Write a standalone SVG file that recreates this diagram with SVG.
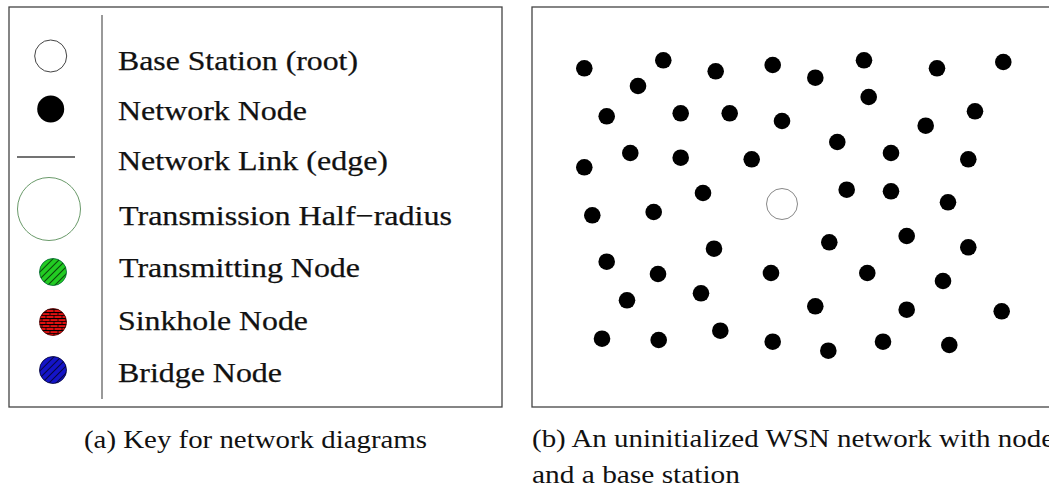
<svg xmlns="http://www.w3.org/2000/svg" width="1049" height="490" viewBox="0 0 1049 490">
<style>
.frame{fill:#fff;stroke:#444;stroke-width:1.3}
.lbl{font-family:"Liberation Serif","Times New Roman",serif;font-size:27.5px;fill:#111;stroke:#111;stroke-width:0.25}
.cap{font-family:"Liberation Serif","Times New Roman",serif;font-size:25px;fill:#111}
.nd{fill:#000}
</style>
<defs>
<pattern id="diag" patternUnits="userSpaceOnUse" width="5" height="5" patternTransform="rotate(45)">
<line x1="0" y1="0" x2="0" y2="5" stroke="#000" stroke-width="1.3"/>
</pattern>
<pattern id="brick" patternUnits="userSpaceOnUse" width="8" height="6">
<line x1="0" y1="0.5" x2="8" y2="0.5" stroke="#000" stroke-width="1.2"/>
<line x1="2" y1="0" x2="2" y2="3" stroke="#000" stroke-width="0.8"/>
<line x1="6" y1="3" x2="6" y2="6" stroke="#000" stroke-width="0.8"/>
<line x1="0" y1="3.5" x2="8" y2="3.5" stroke="#000" stroke-width="0.8"/>
</pattern>
</defs>
<rect width="1049" height="490" fill="#fff"/>

<g id="key-panel">
<rect class="frame" x="9" y="7" width="493" height="400"/>
<line x1="102" y1="15" x2="102" y2="399" stroke="#777" stroke-width="1.5"/>
</g>
<g id="key-base-station">
<circle cx="50.7" cy="56" r="16" fill="#fff" stroke="#444" stroke-width="1"/>
<text class="lbl" x="118" y="70" textLength="240" lengthAdjust="spacingAndGlyphs">Base Station (root)</text>
</g>
<g id="key-network-node">
<circle cx="50.7" cy="109" r="13.5" fill="#000"/>
<text class="lbl" x="118" y="120" textLength="189" lengthAdjust="spacingAndGlyphs">Network Node</text>
</g>
<g id="key-network-link">
<line x1="17" y1="157" x2="75" y2="157" stroke="#444" stroke-width="1.4"/>
<text class="lbl" x="118" y="170" textLength="270" lengthAdjust="spacingAndGlyphs">Network Link (edge)</text>
</g>
<g id="key-transmission-radius">
<circle cx="49" cy="209" r="31.5" fill="none" stroke="#6a9a6a" stroke-width="1"/>
<text class="lbl" x="119" y="225" textLength="333" lengthAdjust="spacingAndGlyphs">Transmission Half−radius</text>
</g>
<g id="key-transmitting-node">
<circle cx="53" cy="272" r="13.5" fill="#22cc22"/>
<circle cx="53" cy="272" r="13.5" fill="url(#diag)" stroke="#063" stroke-width="0.8"/>
<text class="lbl" x="119" y="277" textLength="241" lengthAdjust="spacingAndGlyphs">Transmitting Node</text>
</g>
<g id="key-sinkhole-node">
<circle cx="53" cy="322" r="13.5" fill="#e01010"/>
<circle cx="53" cy="322" r="13.5" fill="url(#brick)" stroke="#400" stroke-width="0.8"/>
<text class="lbl" x="118" y="330" textLength="190" lengthAdjust="spacingAndGlyphs">Sinkhole Node</text>
</g>
<g id="key-bridge-node">
<circle cx="53" cy="370" r="13.5" fill="#1414c8"/>
<circle cx="53" cy="370" r="13.5" fill="url(#diag)" stroke="#003" stroke-width="0.8"/>
<text class="lbl" x="118" y="382" textLength="164" lengthAdjust="spacingAndGlyphs">Bridge Node</text>
</g>

<g id="network-panel">
<rect class="frame" x="532" y="7" width="540" height="400"/>
</g>
<g id="connectors"></g>
<g id="base-station">
<circle cx="782" cy="204" r="15.5" fill="#fff" stroke="#888" stroke-width="1"/>
</g>
<g id="network-nodes">
<circle class="nd" id="n1" cx="584.3" cy="68.3" r="8.3"/>
<circle class="nd" id="n2" cx="663.3" cy="60.3" r="8.3"/>
<circle class="nd" id="n3" cx="638" cy="86" r="8.3"/>
<circle class="nd" id="n4" cx="715.7" cy="71.3" r="8.3"/>
<circle class="nd" id="n5" cx="772.7" cy="65" r="8.3"/>
<circle class="nd" id="n6" cx="815.3" cy="77.7" r="8.3"/>
<circle class="nd" id="n7" cx="864" cy="60.3" r="8.3"/>
<circle class="nd" id="n8" cx="868.7" cy="97" r="8.3"/>
<circle class="nd" id="n9" cx="937" cy="68.3" r="8.3"/>
<circle class="nd" id="n10" cx="1003.3" cy="62" r="8.3"/>
<circle class="nd" id="n11" cx="606.7" cy="116.3" r="8.3"/>
<circle class="nd" id="n12" cx="680.7" cy="113.3" r="8.3"/>
<circle class="nd" id="n13" cx="729.7" cy="113.3" r="8.3"/>
<circle class="nd" id="n14" cx="782" cy="121" r="8.3"/>
<circle class="nd" id="n15" cx="925.7" cy="125.7" r="8.3"/>
<circle class="nd" id="n16" cx="975" cy="111.3" r="8.3"/>
<circle class="nd" id="n17" cx="837.3" cy="142" r="8.3"/>
<circle class="nd" id="n18" cx="584.3" cy="167.3" r="8.3"/>
<circle class="nd" id="n19" cx="630.3" cy="153" r="8.3"/>
<circle class="nd" id="n20" cx="680.7" cy="157.7" r="8.3"/>
<circle class="nd" id="n21" cx="751.7" cy="159.3" r="8.3"/>
<circle class="nd" id="n22" cx="891" cy="153" r="8.3"/>
<circle class="nd" id="n23" cx="968.3" cy="159.3" r="8.3"/>
<circle class="nd" id="n24" cx="703" cy="193" r="8.3"/>
<circle class="nd" id="n25" cx="846.7" cy="189.7" r="8.3"/>
<circle class="nd" id="n26" cx="891" cy="191.3" r="8.3"/>
<circle class="nd" id="n27" cx="948" cy="202.3" r="8.3"/>
<circle class="nd" id="n28" cx="592.3" cy="215.3" r="8.3"/>
<circle class="nd" id="n29" cx="653.7" cy="212" r="8.3"/>
<circle class="nd" id="n30" cx="829.3" cy="242.3" r="8.3"/>
<circle class="nd" id="n31" cx="906.7" cy="236" r="8.3"/>
<circle class="nd" id="n32" cx="968.3" cy="247.3" r="8.3"/>
<circle class="nd" id="n33" cx="714" cy="248.7" r="8.3"/>
<circle class="nd" id="n34" cx="606.7" cy="261.7" r="8.3"/>
<circle class="nd" id="n35" cx="658" cy="274" r="8.3"/>
<circle class="nd" id="n36" cx="771" cy="273" r="8.3"/>
<circle class="nd" id="n37" cx="867.3" cy="273" r="8.3"/>
<circle class="nd" id="n38" cx="943" cy="281" r="8.3"/>
<circle class="nd" id="n39" cx="627" cy="300.3" r="8.3"/>
<circle class="nd" id="n40" cx="701" cy="293.3" r="8.3"/>
<circle class="nd" id="n41" cx="815.3" cy="306.3" r="8.3"/>
<circle class="nd" id="n42" cx="906.7" cy="309.7" r="8.3"/>
<circle class="nd" id="n43" cx="1001.7" cy="311.3" r="8.3"/>
<circle class="nd" id="n44" cx="602" cy="338.7" r="8.3"/>
<circle class="nd" id="n45" cx="658.7" cy="340" r="8.3"/>
<circle class="nd" id="n46" cx="720.3" cy="330.7" r="8.3"/>
<circle class="nd" id="n47" cx="772.7" cy="341.7" r="8.3"/>
<circle class="nd" id="n48" cx="828.3" cy="350.7" r="8.3"/>
<circle class="nd" id="n49" cx="883" cy="341.7" r="8.3"/>
<circle class="nd" id="n50" cx="949.3" cy="345" r="8.3"/>
</g>

<g id="captions">
<text class="cap" x="84" y="447.5" textLength="343" lengthAdjust="spacingAndGlyphs">(a) Key for network diagrams</text>
<text class="cap" x="532" y="447" textLength="522" lengthAdjust="spacingAndGlyphs">(b) An uninitialized WSN network with node</text>
<text class="cap" x="532" y="482.5" textLength="208" lengthAdjust="spacingAndGlyphs">and a base station</text>
</g>
</svg>
